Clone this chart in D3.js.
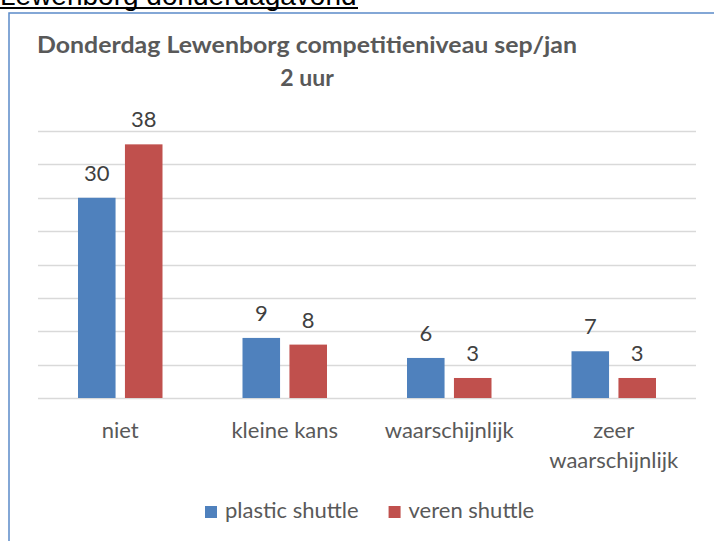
<!DOCTYPE html>
<html>
<head>
<meta charset="utf-8">
<script src="https://cdn.jsdelivr.net/npm/d3@7"></script>
<style>
  body { margin: 0; background: #fff; }
  svg { display: block; }
</style>
</head>
<body>
<svg id="chart" width="714" height="541"></svg>
<script>
// data
var categories = ["niet", "kleine kans", "waarschijnlijk", "zeer waarschijnlijk"];
var seriesNames = ["plastic shuttle", "veren shuttle"];
var plasticValues = [30, 9, 6, 7];
var verenValues = [38, 8, 3, 3];
var seriesColors = ["#4f81bd", "#c0504d"];
var yTicks = [0, 5, 10, 15, 20, 25, 30, 35, 40];

var svg = d3.select("#chart");
var font = "Lato, 'Open Sans', sans-serif";

// heading above the chart, cut off by the top of the picture
svg.append("text")
    .attr("x", 0).attr("y", 5)
    .attr("font-family", "'Liberation Sans', Arial, sans-serif")
    .attr("font-size", 28)
    .attr("fill", "#000")
    .text("Lewenborg donderdagavond");
svg.append("rect")
    .attr("x", 0).attr("y", 7).attr("width", 358).attr("height", 2)
    .attr("fill", "#000");

// chart frame (only top and left edge are visible)
svg.append("path")
    .attr("d", "M9,560 V13 H720")
    .attr("fill", "none")
    .attr("stroke", "#5b8bc9")
    .attr("stroke-width", 1.5);

// title
var title = svg.append("text")
    .attr("text-anchor", "middle")
    .attr("font-family", font)
    .attr("font-weight", "bold")
    .attr("font-size", 23)
    .attr("fill", "#595959");
title.append("tspan").attr("x", 307).attr("y", 53)
    .attr("textLength", 540).attr("lengthAdjust", "spacingAndGlyphs")
    .text("Donderdag Lewenborg competitieniveau sep/jan");
title.append("tspan").attr("x", 307).attr("y", 86)
    .text("2 uur");

var y = d3.scaleLinear().domain([0, 40]).range([398, 131]);
var x0 = d3.scaleBand().domain(categories).range([38, 696]);
var x1 = d3.scaleBand().domain(seriesNames)
    .range([40, x0.bandwidth() - 40]).paddingInner(0.2);

// gridlines
svg.append("g").selectAll("line")
    .data(yTicks)
    .join("line")
    .attr("x1", 38).attr("x2", 696)
    .attr("y1", function (d) { return Math.round(y(d)) + 0.5; })
    .attr("y2", function (d) { return Math.round(y(d)) + 0.5; })
    .attr("stroke", "#d9d9d9")
    .attr("stroke-width", 1.5);

var rows = categories.map(function (c, i) {
    return { cat: c, values: [
        { name: seriesNames[0], v: plasticValues[i] },
        { name: seriesNames[1], v: verenValues[i] }
    ] };
});

var groups = svg.append("g").selectAll("g")
    .data(rows)
    .join("g")
    .attr("transform", function (d) { return "translate(" + x0(d.cat) + ",0)"; });

groups.selectAll("rect")
    .data(function (d) { return d.values; })
    .join("rect")
    .attr("x", function (d) { return x1(d.name); })
    .attr("y", function (d) { return y(d.v); })
    .attr("width", x1.bandwidth())
    .attr("height", function (d) { return y(0) - y(d.v); })
    .attr("fill", function (d, i) { return seriesColors[i]; });

// value labels
groups.selectAll("text")
    .data(function (d) { return d.values; })
    .join("text")
    .attr("x", function (d) { return x1(d.name) + x1.bandwidth() / 2; })
    .attr("y", function (d) { return y(d.v) - 17; })
    .attr("text-anchor", "middle")
    .attr("font-family", font)
    .attr("font-size", 22)
    .attr("fill", "#404040")
    .text(function (d) { return d.v; });

// category labels, wrapped like excel does
var xAxis = svg.append("g")
    .attr("transform", "translate(0,398)")
    .call(d3.axisBottom(x0).tickSize(0).tickPadding(0));
xAxis.select(".domain").remove();
xAxis.selectAll("text")
    .attr("font-family", font)
    .attr("font-size", 22)
    .attr("fill", "#595959")
    .attr("y", 40)
    .attr("dy", null)
    .each(function (d) {
        var t = d3.select(this);
        var words = d.split(" ");
        if (words.length > 1 && d.length > 12) {
            t.text(null);
            words.forEach(function (w, k) {
                t.append("tspan").attr("x", 0).attr("y", 40 + k * 30).text(w);
            });
        }
    });

// legend
var legend = svg.append("g");
var lx = 205;
seriesNames.forEach(function (name, i) {
    legend.append("rect")
        .attr("x", lx).attr("y", 506)
        .attr("width", 12).attr("height", 12)
        .attr("fill", seriesColors[i]);
    var t = legend.append("text")
        .attr("x", lx + 20).attr("y", 518)
        .attr("font-family", font)
        .attr("font-size", 22)
        .attr("fill", "#595959")
        .text(name);
    lx += 20 + t.node().getComputedTextLength() + 30;
});
</script>
</body>
</html>
